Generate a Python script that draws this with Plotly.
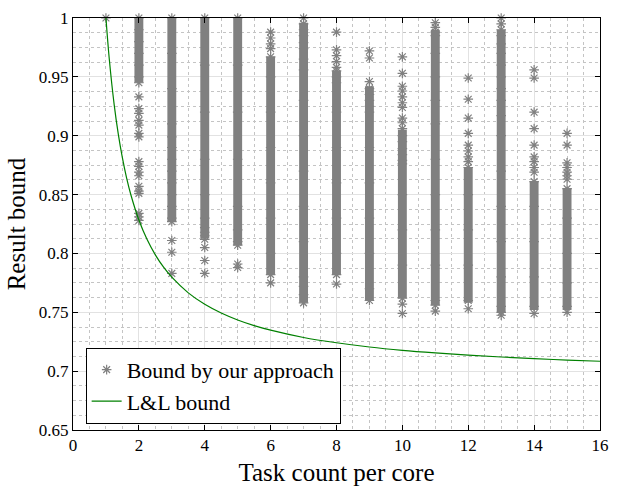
import plotly.graph_objects as go

# ---------------- data ----------------
# dense (solid) part of each column of results
dense_x = [2, 3, 4, 5, 6, 7, 8, 9, 10, 11, 12, 13, 14, 15]
dense_top = [1.0, 1.0, 1.0, 1.0, 0.967, 0.996, 0.955, 0.942, 0.905, 0.99, 0.873, 0.99, 0.861, 0.855]
dense_bottom = [0.945, 0.827, 0.813, 0.807, 0.782, 0.758, 0.782, 0.760, 0.762, 0.756, 0.758, 0.750, 0.752, 0.752]

# individual results (per task count)
pts_1 = [1.0]
pts_2 = [1.0, 0.99, 0.98, 0.97, 0.96, 0.95, 0.945, 0.933, 0.923, 0.919, 0.913, 0.909,
         0.902, 0.899, 0.878, 0.874, 0.869, 0.866, 0.857, 0.853, 0.851, 0.834, 0.831, 0.828]
pts_3 = [1.0, 0.97, 0.94, 0.91, 0.899, 0.89, 0.88, 0.87, 0.86, 0.85, 0.84, 0.83, 0.827,
         0.811, 0.801, 0.783]
pts_4 = [1.0, 0.96, 0.92, 0.88, 0.85, 0.83, 0.822, 0.818, 0.815, 0.812, 0.805, 0.794, 0.783]
pts_5 = [1.0, 0.96, 0.92, 0.88, 0.84, 0.82, 0.81, 0.807, 0.791, 0.788]
pts_6 = [0.988, 0.983, 0.978, 0.974, 0.967, 0.95, 0.92, 0.89, 0.86, 0.83, 0.80, 0.782, 0.775]
pts_7 = [1.0, 0.995, 0.99, 0.985, 0.979, 0.974, 0.965, 0.956, 0.93, 0.90, 0.87, 0.84,
         0.81, 0.78, 0.772, 0.765, 0.758]
pts_8 = [0.988, 0.973, 0.968, 0.963, 0.958, 0.955, 0.95, 0.945, 0.92, 0.89, 0.86, 0.83,
         0.80, 0.782, 0.774]
pts_9 = [0.972, 0.966, 0.946, 0.94, 0.935, 0.93, 0.925, 0.92, 0.89, 0.86, 0.83, 0.80, 0.77, 0.76]
pts_10 = [0.967, 0.953, 0.942, 0.938, 0.933, 0.928, 0.924, 0.915, 0.911, 0.906, 0.9, 0.895,
          0.889, 0.884, 0.879, 0.876, 0.85, 0.82, 0.79, 0.762, 0.757, 0.749]
pts_11 = [0.996, 0.992, 0.988, 0.985, 0.97, 0.95, 0.93, 0.91, 0.88, 0.85, 0.82, 0.79, 0.76,
          0.756, 0.751]
pts_12 = [0.949, 0.931, 0.915, 0.902, 0.892, 0.887, 0.882, 0.878, 0.873, 0.85, 0.82, 0.79,
          0.76, 0.753]
pts_13 = [1.0, 0.995, 0.99, 0.985, 0.978, 0.97, 0.96, 0.95, 0.94, 0.93, 0.917, 0.9, 0.87,
          0.84, 0.81, 0.78, 0.755, 0.75, 0.7475]
pts_14 = [0.956, 0.949, 0.92, 0.906, 0.892, 0.882, 0.878, 0.873, 0.869, 0.861, 0.84, 0.81,
          0.78, 0.755, 0.749]
pts_15 = [0.902, 0.892, 0.877, 0.873, 0.869, 0.866, 0.863, 0.855, 0.83, 0.80, 0.775, 0.755, 0.75]

# L&L bound curve
ll_x = [1, 1.1, 1.25, 1.375, 1.5, 1.625, 1.75, 2, 2.25, 2.5, 2.75, 3, 3.5, 4, 4.5, 5, 5.5,
        6, 7, 8, 9, 10, 11, 12, 13, 14, 15, 16]
ll_y = [1.0, 0.9656, 0.9264, 0.9013, 0.8811, 0.8644, 0.8505, 0.8284, 0.8118, 0.7988, 0.7883,
        0.7798, 0.7665, 0.7568, 0.7494, 0.7435, 0.7387, 0.7348, 0.7286, 0.7241, 0.7205,
        0.7177, 0.7155, 0.7136, 0.7120, 0.7106, 0.7094, 0.7084]

x_tick_vals = [0, 2, 4, 6, 8, 10, 12, 14, 16]
x_tick_labels = ["0", "2", "4", "6", "8", "10", "12", "14", "16"]
y_tick_vals = [0.65, 0.7, 0.75, 0.8, 0.85, 0.9, 0.95, 1.0]
y_tick_labels = ["0.65", "0.7", "0.75", "0.8", "0.85", "0.9", "0.95", "1"]

# ---------------- build ----------------
all_pts = [pts_1, pts_2, pts_3, pts_4, pts_5, pts_6, pts_7, pts_8, pts_9, pts_10,
           pts_11, pts_12, pts_13, pts_14, pts_15]
sc_x, sc_y = [], []
for i, col in enumerate(all_pts):
    sc_x += [i + 1] * len(col)
    sc_y += col

GRAY = "#808080"
FONT = "Liberation Serif"

fig = go.Figure()
fig.add_trace(go.Bar(
    x=dense_x, y=[t - b for t, b in zip(dense_top, dense_bottom)], base=dense_bottom,
    width=0.27, marker=dict(color=GRAY, line=dict(width=0)),
    showlegend=False, hoverinfo="skip"))
fig.add_trace(go.Scatter(
    x=sc_x, y=sc_y, mode="markers", name="Bound by our approach",
    marker=dict(symbol="asterisk-open", size=8, color=GRAY,
                line=dict(color=GRAY, width=1.2)),
    cliponaxis=False))
fig.add_trace(go.Scatter(
    x=ll_x, y=ll_y, mode="lines", name="L&L bound",
    line=dict(color="#008000", width=1.2, shape="spline")))

axis_common = dict(
    showline=True, linecolor="black", linewidth=1, mirror="ticks",
    ticks="inside", ticklen=5, tickcolor="black",
    showgrid=True, gridcolor="#e2e2e2", gridwidth=1, zeroline=False,
    tickfont=dict(family=FONT, size=17, color="black"),
)

fig.update_xaxes(
    range=[0, 16], tickmode="array", tickvals=x_tick_vals, ticktext=x_tick_labels,
    title=dict(text="Task count per core", font=dict(family=FONT, size=25, color="black"),
               standoff=9),
    minor=dict(dtick=0.5, showgrid=True, griddash="dot", gridcolor="#c4c4c4", gridwidth=1),
    **axis_common)
fig.update_yaxes(
    range=[0.65, 1.0], tickmode="array", tickvals=y_tick_vals, ticktext=y_tick_labels,
    title=dict(text="Result bound", font=dict(family=FONT, size=25, color="black"),
               standoff=6),
    minor=dict(dtick=0.0125, tick0=0.65, showgrid=True, griddash="dot",
               gridcolor="#c4c4c4", gridwidth=1),
    **axis_common)

fig.update_layout(
    width=618, height=491,
    margin=dict(l=73, r=9, t=15, b=54),
    paper_bgcolor="white", plot_bgcolor="white",
    barmode="overlay",
    legend=dict(x=0.024, y=0.015, xanchor="left", yanchor="bottom",
                bgcolor="white", bordercolor="black", borderwidth=1,
                font=dict(family=FONT, size=22, color="black"),
                tracegroupgap=0),
    showlegend=True,
)

fig.write_html("out.html")
